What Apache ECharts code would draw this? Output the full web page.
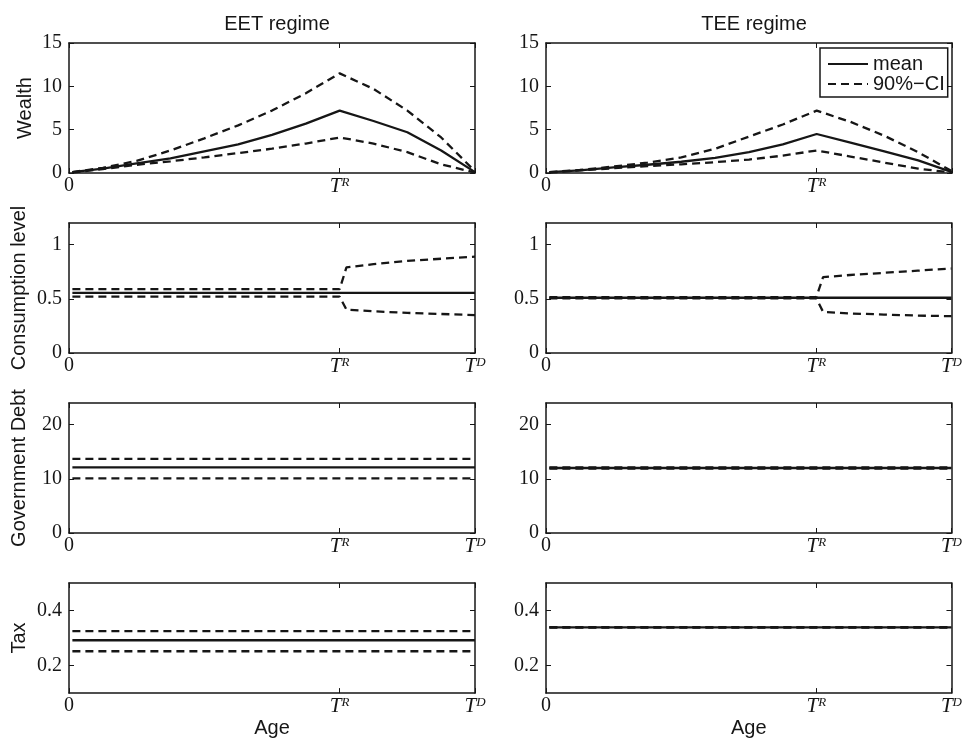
<!DOCTYPE html>
<html>
<head>
<meta charset="utf-8">
<script src="https://cdn.jsdelivr.net/npm/echarts@6/dist/echarts.min.js"></script>
<style>
  html, body { margin: 0; padding: 0; background: #fff; }
  #chart { width: 965px; height: 739px; }
</style>
</head>
<body>
<div id="chart"></div>
<script>
// Life-cycle simulation: retirement at T_R, death at T_D (model years)
const T_R = 40;
const T_D = 60;

// Wealth (mean and 90% confidence band)
const wealthAges     = [0.5, 5, 10, 15, 20, 25, 30, 35, 40, 45, 50, 55, 60];
const wealthEETMean  = [0.1, 0.5, 1.1, 1.7, 2.5, 3.3, 4.4, 5.7, 7.2, 6.0, 4.7, 2.6, 0.1];
const wealthEETUpper = [0.1, 0.6, 1.4, 2.6, 4.0, 5.5, 7.2, 9.2, 11.5, 9.7, 7.2, 4.1, 0.2];
const wealthEETLower = [0.05, 0.45, 0.95, 1.35, 1.8, 2.3, 2.8, 3.4, 4.1, 3.4, 2.4, 1.0, 0.05];
const wealthTEEMean  = [0.1, 0.3, 0.65, 0.95, 1.3, 1.75, 2.4, 3.3, 4.5, 3.5, 2.5, 1.45, 0.1];
const wealthTEEUpper = [0.1, 0.35, 0.75, 1.2, 1.8, 2.8, 4.2, 5.6, 7.2, 5.9, 4.3, 2.4, 0.2];
const wealthTEELower = [0.05, 0.3, 0.55, 0.8, 1.0, 1.25, 1.55, 2.0, 2.6, 1.9, 1.2, 0.5, 0.05];

// Consumption level
const consAges     = [0.5, 40, 41, 45, 50, 55, 60];
const consEETMean  = [0.555, 0.555, 0.555, 0.555, 0.555, 0.555, 0.555];
const consEETUpper = [0.59, 0.59, 0.79, 0.82, 0.85, 0.87, 0.89];
const consEETLower = [0.52, 0.52, 0.40, 0.385, 0.37, 0.36, 0.35];
const consTEEMean  = [0.51, 0.51, 0.51, 0.51, 0.51, 0.51, 0.51];
const consTEEUpper = [0.515, 0.515, 0.70, 0.72, 0.74, 0.76, 0.78];
const consTEELower = [0.505, 0.505, 0.38, 0.365, 0.355, 0.345, 0.34];

// Government debt and tax rate are constant over age
const flatAges     = [0.5, 60];
const debtEETMean  = [12.1, 12.1];
const debtEETUpper = [13.7, 13.7];
const debtEETLower = [10.1, 10.1];
const debtTEEMean  = [12.0, 12.0];
const debtTEEUpper = [12.1, 12.1];
const debtTEELower = [11.9, 11.9];
const taxEETMean   = [0.292, 0.292];
const taxEETUpper  = [0.325, 0.325];
const taxEETLower  = [0.252, 0.252];
const taxTEEMean   = [0.339, 0.339];
const taxTEEUpper  = [0.340, 0.340];
const taxTEELower  = [0.338, 0.338];

// Axis text
const columnTitles = ['EET regime', 'TEE regime'];
const rowNames     = ['Wealth', 'Consumption level', 'Government Debt', 'Tax'];
const yRanges      = [[0, 15], [0, 1.2], [0, 24], [0.1, 0.5]];
const yTicks       = [[0, 5, 10, 15], [0, 0.5, 1], [0, 10, 20], [0.2, 0.4]];
const xTicks       = [0, T_R, T_D];
const meanName     = 'mean';
const ciName       = '90%\u2212CI';

// Panel series: [row][col] = {ages, mean, upper, lower}
const panels = [
  [{ ages: wealthAges, mean: wealthEETMean, upper: wealthEETUpper, lower: wealthEETLower },
   { ages: wealthAges, mean: wealthTEEMean, upper: wealthTEEUpper, lower: wealthTEELower }],
  [{ ages: consAges, mean: consEETMean, upper: consEETUpper, lower: consEETLower },
   { ages: consAges, mean: consTEEMean, upper: consTEEUpper, lower: consTEELower }],
  [{ ages: flatAges, mean: debtEETMean, upper: debtEETUpper, lower: debtEETLower },
   { ages: flatAges, mean: debtTEEMean, upper: debtTEEUpper, lower: debtTEELower }],
  [{ ages: flatAges, mean: taxEETMean, upper: taxEETUpper, lower: taxEETLower },
   { ages: flatAges, mean: taxTEEMean, upper: taxTEEUpper, lower: taxTEELower }]
];

// Layout
const INK = '#161616';
const SANS = 'Liberation Sans, Arial, Helvetica, sans-serif';
const SERIF = 'Liberation Serif, Times New Roman, serif';
const colLeft = [69, 546];
const rowTop = [43, 223, 403, 583];
const plotW = 406;
const plotH = 130;

const pair = (xs, ys) => xs.map((x, i) => [x, ys[i]]);

const boxLine = { show: true, onZero: false, lineStyle: { color: INK, width: 1.5 } };
const tickStyle = { color: INK, width: 1 };
const supRich = {
  t: { fontFamily: SERIF, fontStyle: 'italic', fontSize: 21, color: INK },
  s: { fontFamily: SERIF, fontStyle: 'italic', fontSize: 13, color: INK, verticalAlign: 'top' },
  n: { fontFamily: SERIF, fontSize: 20, color: INK }
};

const grid = [], xAxis = [], yAxis = [], series = [];

for (let r = 0; r < 4; r++) {
  for (let c = 0; c < 2; c++) {
    const g = r * 2 + c;
    grid.push({ left: colLeft[c], top: rowTop[r], width: plotW, height: plotH, show: false });

    const xLabel = (v) => {
      if (v === 0) return '{n|0}';
      if (v === T_R) return '{t|T}{s|R}';
      if (v === T_D) return r === 0 ? '' : '{t|T}{s|D}';
      return '';
    };
    xAxis.push({
      gridIndex: g, type: 'value', min: 0, max: T_D, position: 'bottom',
      axisLine: boxLine,
      axisTick: { show: true, inside: true, length: 5, customValues: xTicks, lineStyle: tickStyle },
      axisLabel: { show: true, customValues: xTicks, formatter: xLabel, rich: supRich, margin: 3,
                   hideOverlap: false, showMinLabel: true, showMaxLabel: true },
      splitLine: { show: false },
      name: r === 3 ? 'Age' : '', nameLocation: 'middle', nameGap: 6,
      nameTextStyle: { fontFamily: SANS, fontSize: 20, color: INK }
    });
    xAxis.push({
      gridIndex: g, type: 'value', min: 0, max: T_D, position: 'top',
      axisLine: boxLine,
      axisTick: { show: true, inside: true, length: 5, customValues: xTicks, lineStyle: tickStyle },
      axisLabel: { show: false }, splitLine: { show: false }
    });

    const [ymin, ymax] = yRanges[r];
    yAxis.push({
      gridIndex: g, type: 'value', min: ymin, max: ymax, position: 'left',
      axisLine: boxLine,
      axisTick: { show: true, inside: true, length: 5, customValues: yTicks[r], lineStyle: tickStyle },
      axisLabel: { show: true, customValues: yTicks[r], formatter: (v) => String(v), margin: 7,
                   fontFamily: SERIF, fontSize: 20, color: INK, hideOverlap: false },
      splitLine: { show: false },
      name: c === 0 ? rowNames[r] : '', nameLocation: 'middle', nameRotate: 90,
      nameGap: r === 0 ? 34 : 40,
      nameTextStyle: { fontFamily: SANS, fontSize: 20, color: INK }
    });
    yAxis.push({
      gridIndex: g, type: 'value', min: ymin, max: ymax, position: 'right',
      axisLine: boxLine,
      axisTick: { show: true, inside: true, length: 5, customValues: yTicks[r], lineStyle: tickStyle },
      axisLabel: { show: false }, splitLine: { show: false }
    });

    const p = panels[r][c];
    const base = {
      type: 'line', xAxisIndex: 2 * g, yAxisIndex: 2 * g,
      symbol: 'none', smooth: false, animation: false, silent: true
    };
    series.push(Object.assign({}, base, {
      name: meanName, data: pair(p.ages, p.mean),
      lineStyle: { color: INK, width: 2.3, type: 'solid' }, itemStyle: { color: INK }
    }));
    series.push(Object.assign({}, base, {
      name: ciName, data: pair(p.ages, p.upper),
      lineStyle: { color: INK, width: 2.3, type: [8, 5] }, itemStyle: { color: INK }
    }));
    series.push(Object.assign({}, base, {
      name: ciName, data: pair(p.ages, p.lower),
      lineStyle: { color: INK, width: 2.3, type: [8, 5] }, itemStyle: { color: INK }
    }));
  }
}

const option = {
  backgroundColor: '#fff',
  animation: false,
  title: columnTitles.map((t, c) => ({
    text: t, left: colLeft[c] + plotW / 2, top: 9, textAlign: 'center',
    textStyle: { fontFamily: SANS, fontSize: 20, fontWeight: 'normal', color: INK }
  })),
  legend: {
    data: [meanName, ciName], orient: 'vertical', left: 820, top: 48,
    itemWidth: 40, itemHeight: 12, itemGap: 0, padding: [6, 3, 3, 7],
    borderColor: INK, borderWidth: 1.5, backgroundColor: '#fff',
    selectedMode: false,
    // line-only key: hide the marker drawn on the key line
    itemStyle: { opacity: 0, borderWidth: 0 },
    textStyle: { fontFamily: SANS, fontSize: 20, color: INK }
  },
  grid, xAxis, yAxis, series
};

const chart = echarts.init(document.getElementById('chart'), null, { renderer: 'canvas' });
chart.setOption(option);
</script>
</body>
</html>
